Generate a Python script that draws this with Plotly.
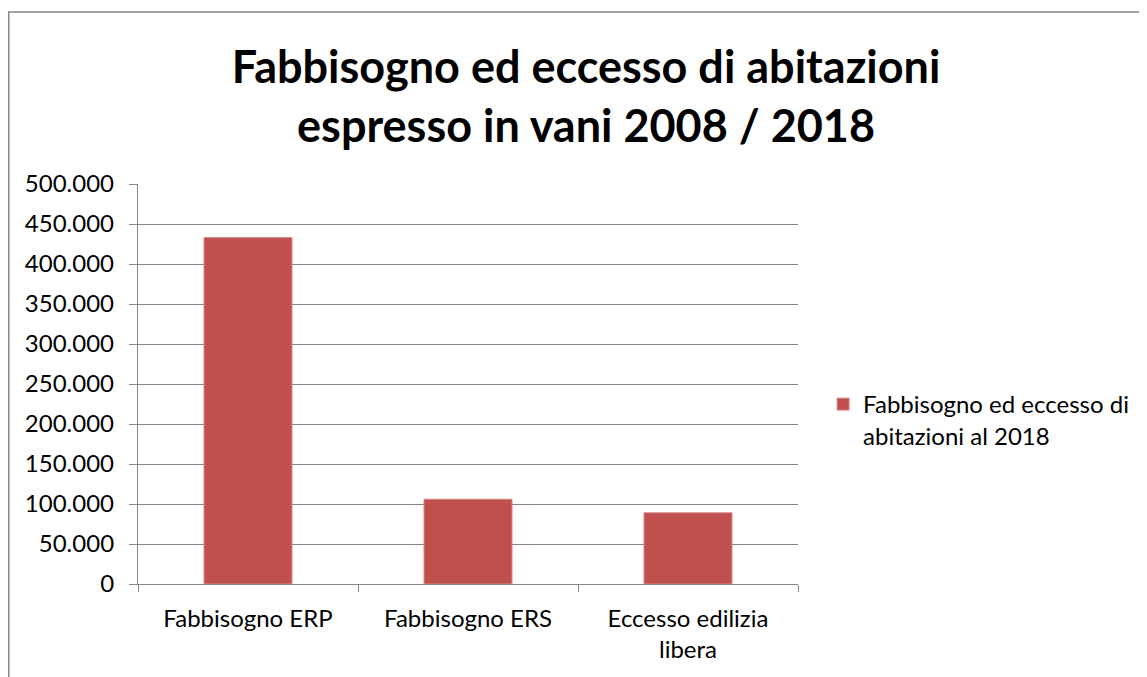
import plotly.graph_objects as go

categories = ["Fabbisogno ERP", "Fabbisogno ERS", "Eccesso edilizia<br>libera"]
values = [433000, 106000, 89000]
series_name = "Fabbisogno ed eccesso di<br>abitazioni al 2018"
title_text = "Fabbisogno ed eccesso di abitazioni<br>espresso in vani 2008 / 2018"
y_ticks = [0, 50000, 100000, 150000, 200000, 250000, 300000, 350000, 400000, 450000, 500000]

FONT = "Lato, Calibri, Carlito, sans-serif"
GRID = "#868686"

fig = go.Figure()
fig.add_trace(go.Bar(
    x=categories, y=values, name=series_name,
    marker=dict(color="#C0504D", line=dict(color="#D88A88", width=1)),
    showlegend=True,
))

fig.update_layout(
    width=1147, height=677,
    paper_bgcolor="white", plot_bgcolor="white",
    separators=",.",
    margin=dict(l=130, r=357, t=176, b=101),
    bargap=0.6,
    font=dict(family=FONT, color="#000000", size=24),
    title=dict(text=title_text, x=0.504, xanchor="center", y=0.889, yanchor="middle",
               yref="container", xref="container",
               font=dict(family=FONT, size=45, color="#000000", weight="bold")),
    legend=dict(x=1.038, xanchor="left", y=0.41, yanchor="middle", valign="top",
                font=dict(family=FONT, size=24, color="#000000"),
                itemwidth=30, bgcolor="rgba(0,0,0,0)"),
    showlegend=True,
    xaxis=dict(showline=True, linecolor=GRID, linewidth=1.3, ticks="outside",
               tickson="boundaries", ticklen=7, tickcolor=GRID, tickwidth=1.3,
               ticklabelstandoff=13,
               tickfont=dict(family=FONT, size=24, color="#000000"),
               showgrid=False, zeroline=False),
    yaxis=dict(range=[0, 500000], tickvals=y_ticks, tickformat=",d",
               showline=True, linecolor=GRID, linewidth=1.3, ticks="outside",
               ticklen=8, tickcolor=GRID, tickwidth=1.3, ticklabelstandoff=10,
               showgrid=True, gridcolor=GRID, gridwidth=1.3, zeroline=False,
               tickfont=dict(family=FONT, size=24, color="#000000")),
    shapes=[dict(type="rect", xref="paper", yref="paper",
                 x0=(8.8 - 138) / 660, x1=(1400 - 138) / 660,
                 y0=(584 - 800) / 400, y1=(584 - 12) / 400,
                 line=dict(color=GRID, width=1.5), fillcolor="rgba(0,0,0,0)", layer="below")],
)

fig.write_html("out.html")
